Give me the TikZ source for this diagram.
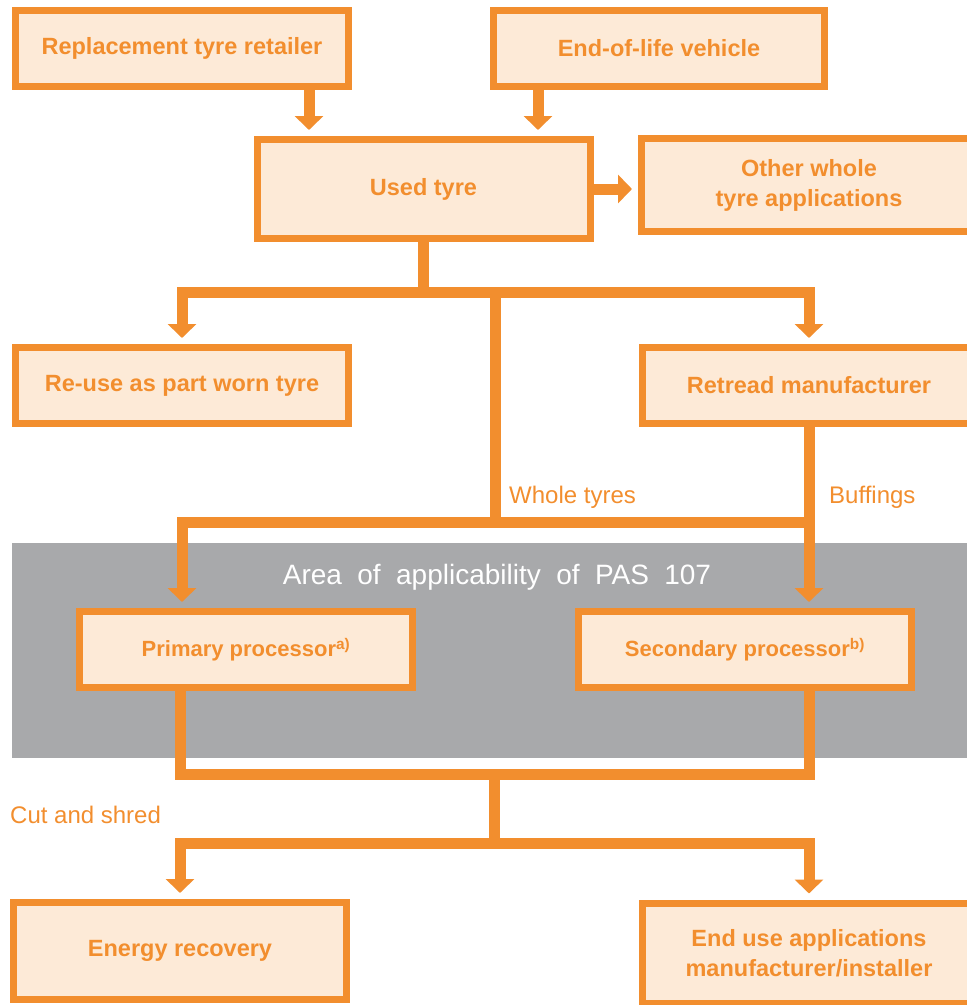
\documentclass[tikz,border=0pt]{standalone}
\usepackage{fontspec}
\setmainfont{Liberation Sans}
\usetikzlibrary{arrows.meta,calc,positioning,shadows}
\definecolor{tyreorange}{RGB}{242,142,46}
\definecolor{tyrefill}{RGB}{253,234,215}
\definecolor{pasgrey}{RGB}{168,169,171}

\begin{document}
\begin{tikzpicture}[x=1pt, y=-1pt,
  box/.style={draw=tyreorange, line width=7pt, fill=tyrefill, text=tyreorange, align=center, font=\fontsize{23.5}{30}\selectfont\bfseries, minimum width=333pt, minimum height=76pt, inner sep=2pt, drop shadow={shadow xshift=3pt, shadow yshift=-3pt, opacity=.3, fill=black!60}},
  conn/.style={draw=tyreorange, line width=11pt, line cap=rect},
  arr/.style={draw=tyreorange, line width=11pt, -{Triangle[width=28pt, length=14pt]}, shorten >=6pt},
  lab/.style={text=tyreorange, font=\fontsize{24}{28}\selectfont, anchor=west, inner sep=0pt}]
\useasboundingbox (0,0) rectangle (967,1005);
\fill[pasgrey] (12,543) rectangle (990,758);
\node[text=white, font=\fontsize{28}{32}\selectfont] (pas) at (497,577) {\spaceskip=0.55em\relax Area of applicability of PAS 107};
\node[box] (retail) at (182,48.5) {Replacement tyre retailer};
\node[box, minimum width=331pt] (eol) at (659,48.5) {End-of-life vehicle};
\node[box, minimum height=99pt] (used) at (423.5,189) {Used tyre};
\node[box, minimum width=335pt, minimum height=93pt] (other) at (809,185) {Other whole\\tyre applications};
\node[box] (reuse) at (182,385.5) {Re-use as part worn tyre};
\node[box] (retread) at (809,385.5) {Retread manufacturer};
\node[box, font=\fontsize{22}{26}\selectfont\bfseries] (primary) at (246,649.5) {Primary processor\textsuperscript{a)}};
\node[box, font=\fontsize{22}{26}\selectfont\bfseries] (secondary) at (745,649.5) {Secondary processor\textsuperscript{b)}};
\node[box, minimum height=97pt] (energy) at (180,951) {Energy recovery};
\node[box, minimum height=100pt] (enduse) at (809,953) {End use applications\\manufacturer/installer};
\draw[arr] (retail.south -| 309,0) -- (used.north -| 309,0);
\draw[arr] (eol.south -| 538,0) -- (used.north -| 538,0);
\draw[arr] (used.east) -- (other.west |- used.east);
\coordinate (split) at (used.south |- 0,292);
\draw[conn] (used.south) -- (split);
\draw[conn] (reuse.north |- split) -- (retread.north |- split);
\draw[arr] (reuse.north |- split) -- (reuse.north);
\draw[arr] (retread.north |- split) -- (retread.north);
\coordinate (whole) at (495,522);
\draw[conn] (whole |- split) -- (whole);
\draw[conn] (reuse.north |- whole) -- (retread.south |- whole);
\draw[arr] (reuse.north |- whole) -- (primary.north -| reuse.north);
\draw[arr] (retread.south) -- (secondary.north -| retread.south);
\node[lab] (wlab) at (509,497) {Whole\ tyres};
\node[lab] (blab) at (829,497) {Buffings};
\coordinate (merge) at (494,774);
\draw[conn] (primary.south -| energy.north) -- (energy.north |- merge);
\draw[conn] (secondary.south -| enduse.north) -- (enduse.north |- merge);
\draw[conn] (energy.north |- merge) -- (enduse.north |- merge);
\coordinate (cut) at (494,843);
\draw[conn] (merge) -- (cut);
\draw[conn] (energy.north |- cut) -- (enduse.north |- cut);
\draw[arr] (energy.north |- cut) -- (energy.north);
\draw[arr] (enduse.north |- cut) -- (enduse.north);
\node[lab] (clab) at (10,815) {Cut and shred};
\end{tikzpicture}
\end{document}
